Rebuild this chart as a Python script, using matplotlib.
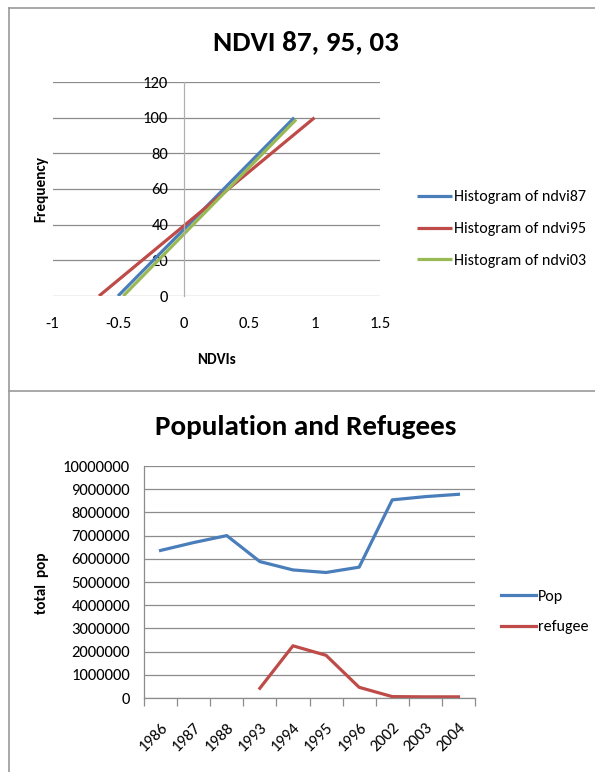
import numpy as np
import matplotlib
matplotlib.use('Agg')
import matplotlib.pyplot as plt
from matplotlib.lines import Line2D

plt.rcParams['font.family'] = ['Carlito', 'Lato', 'DejaVu Sans']

# NDVI frequency lines (end points of each fitted histogram line)
ndvi87_x = [-0.50, 0.845]
ndvi87_y = [0, 100]
ndvi95_x = [-0.645, 1.0]
ndvi95_y = [0, 100]
ndvi03_x = [-0.46, 0.86]
ndvi03_y = [0, 99]
ndvi_labels = ['Histogram of ndvi87', 'Histogram of ndvi95', 'Histogram of ndvi03']

# population and refugee counts
years = ['1986', '1987', '1988', '1993', '1994', '1995', '1996', '2002', '2003', '2004']
pop = [6360000, 6700000, 7000000, 5880000, 5520000, 5410000, 5640000, 8540000, 8680000, 8780000]
refugee = [np.nan, np.nan, np.nan, 420000, 2250000, 1840000, 460000, 60000, 50000, 50000]

BLUE = '#4a7ebb'
RED = '#be4b48'
GREEN = '#98b954'
GRID = '#8c8c8c'

W, H = 595, 772


def box(l, t, r, b):
    return [l / W, 1 - b / H, (r - l) / W, (b - t) / H]


fig = plt.figure(figsize=(W / 100, H / 100), dpi=100)

# frame lines around the two charts
for xs, ys in [([9, 9], [7.5, H]), ([9, W], [7.5, 7.5]), ([9, W], [391, 391])]:
    fig.add_artist(Line2D([x / W for x in xs], [1 - y / H for y in ys],
                          color='#9a9a9a', lw=1.2))

# ---- top chart ----
ax1 = fig.add_axes(box(52.5, 82, 380, 296))
ax1.set_xlim(-1, 1.5)
ax1.set_ylim(0, 120)
ax1.set_yticks(range(0, 121, 20))
ax1.set_xticks([-1, -0.5, 0, 0.5, 1, 1.5])
ax1.set_xticklabels(['-1', '-0.5', '0', '0.5', '1', '1.5'])
for s in ['top', 'right', 'bottom']:
    ax1.spines[s].set_visible(False)
ax1.spines['left'].set_position(('data', 0))
ax1.spines['left'].set_color('#b0b0b0')
ax1.spines['left'].set_linewidth(0.9)
ax1.tick_params(axis='y', length=0, pad=11, labelsize=12)
ax1.tick_params(axis='x', length=0, pad=15, labelsize=12)
ax1.grid(axis='y', color=GRID, lw=0.9)
ax1.set_axisbelow(True)

ax1.plot(ndvi87_x, ndvi87_y, color=BLUE, lw=2.3, solid_capstyle='butt', label=ndvi_labels[0])
ax1.plot(ndvi95_x, ndvi95_y, color=RED, lw=2.3, solid_capstyle='butt', label=ndvi_labels[1])
ax1.plot(ndvi03_x, ndvi03_y, color=GREEN, lw=2.3, solid_capstyle='butt', label=ndvi_labels[2])

fig.text(306 / W, 1 - 42 / H, 'NDVI 87, 95, 03', ha='center', va='center',
         fontsize=21, fontweight='bold')
fig.text(217 / W, 1 - 360 / H, 'NDVIs', ha='center', va='center',
         fontsize=11, fontweight='bold')
fig.text(41 / W, 1 - 189 / H, 'Frequency', ha='center', va='center',
         rotation=90, fontsize=11, fontweight='bold')

ax1.legend(loc='center left', bbox_to_anchor=(409 / W, 1 - 229 / H),
           bbox_transform=fig.transFigure, frameon=False, fontsize=11.5,
           handlelength=2.2, handletextpad=0.12, labelspacing=1.1, borderpad=0)

# ---- bottom chart ----
x = np.arange(len(years))
ax2 = fig.add_axes(box(144, 466, 475, 698))
ax2.set_xlim(-0.5, len(years) - 0.5)
ax2.set_ylim(0, 10000000)
yt = np.arange(0, 10000001, 1000000)
ax2.set_yticks(yt)
ax2.set_yticklabels([str(v) for v in yt])
ax2.set_xticks(x)
ax2.set_xticklabels(years, rotation=45, ha='right', rotation_mode='anchor')
ax2.set_xticks(np.arange(-0.5, len(years)), minor=True)
ax2.tick_params(axis='x', which='major', length=0, pad=16, labelsize=12)
ax2.tick_params(axis='x', which='minor', length=6, width=0.9, color='#8c8c8c', direction='out')
ax2.tick_params(axis='y', length=0, pad=10, labelsize=12)
for s in ['top', 'right']:
    ax2.spines[s].set_visible(False)
for s in ['left', 'bottom']:
    ax2.spines[s].set_color('#8c8c8c')
    ax2.spines[s].set_linewidth(0.9)
ax2.grid(axis='y', color=GRID, lw=0.9)
ax2.set_axisbelow(True)

ax2.plot(x, pop, color=BLUE, lw=2.3, label='Pop')
ax2.plot(x, refugee, color=RED, lw=2.3, label='refugee')

fig.text(306 / W, 1 - 427 / H, 'Population and Refugees', ha='center', va='center',
         fontsize=21, fontweight='bold')
fig.text(42 / W, 1 - 583 / H, 'total  pop', ha='center', va='center',
         rotation=90, fontsize=11, fontweight='bold')

ax2.legend(loc='center left', bbox_to_anchor=(493 / W, 1 - 612 / H),
           bbox_transform=fig.transFigure, frameon=False, fontsize=11.5,
           handlelength=2.2, handletextpad=0.12, labelspacing=1.0, borderpad=0)

fig.savefig('out.png', dpi=100)
